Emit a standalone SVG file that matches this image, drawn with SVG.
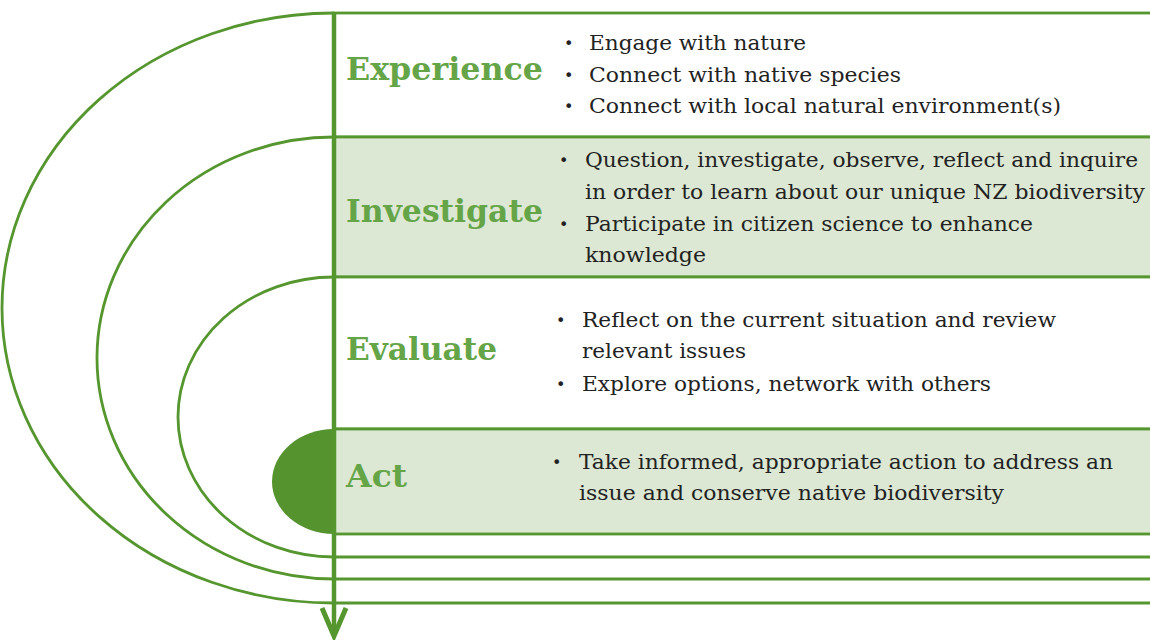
<svg xmlns="http://www.w3.org/2000/svg" width="1150" height="640" viewBox="0 0 1150 640">
<style>
.row{stroke:#55962f;stroke-width:2.8}
.w{fill:#ffffff}
.g{fill:#dce8d4}
.arc{fill:none;stroke:#55962f;stroke-width:2.8}
.h{font-family:"DejaVu Serif",serif;font-weight:bold;font-size:32px;fill:#65a548}
.t{font-family:"DejaVu Serif",serif;font-size:20px;fill:#222222}
.b{font-family:"DejaVu Sans",sans-serif;font-size:16px;fill:#222222}
</style>
<rect width="1150" height="640" fill="#ffffff"/>
<g id="experience">
<rect class="row w" x="334" y="13" width="830" height="124"/>
<text class="h" x="346" y="80" textLength="197" lengthAdjust="spacingAndGlyphs">Experience</text>
<text class="b" x="564" y="49">•</text><text class="t" x="589" y="50" textLength="217" lengthAdjust="spacingAndGlyphs">Engage with nature</text>
<text class="b" x="564" y="81">•</text><text class="t" x="589" y="82" textLength="312" lengthAdjust="spacingAndGlyphs">Connect with native species</text>
<text class="b" x="564" y="112">•</text><text class="t" x="589" y="113" textLength="472" lengthAdjust="spacingAndGlyphs">Connect with local natural environment(s)</text>
</g>
<g id="investigate">
<rect class="row g" x="334" y="137" width="830" height="140"/>
<text class="h" x="346" y="222" textLength="197" lengthAdjust="spacingAndGlyphs">Investigate</text>
<text class="b" x="559" y="166">•</text><text class="t" x="585" y="167" textLength="553" lengthAdjust="spacingAndGlyphs">Question, investigate, observe, reflect and inquire</text>
<text class="t" x="585" y="199" textLength="560" lengthAdjust="spacingAndGlyphs">in order to learn about our unique NZ biodiversity</text>
<text class="b" x="559" y="230">•</text><text class="t" x="585" y="231" textLength="448" lengthAdjust="spacingAndGlyphs">Participate in citizen science to enhance</text>
<text class="t" x="585" y="262" textLength="121" lengthAdjust="spacingAndGlyphs">knowledge</text>
</g>
<g id="evaluate">
<rect class="row w" x="334" y="277" width="830" height="152"/>
<text class="h" x="346" y="360" textLength="151" lengthAdjust="spacingAndGlyphs">Evaluate</text>
<text class="b" x="556" y="326">•</text><text class="t" x="582" y="327" textLength="474" lengthAdjust="spacingAndGlyphs">Reflect on the current situation and review</text>
<text class="t" x="582" y="358" textLength="164" lengthAdjust="spacingAndGlyphs">relevant issues</text>
<text class="b" x="556" y="390">•</text><text class="t" x="582" y="391" textLength="409" lengthAdjust="spacingAndGlyphs">Explore options, network with others</text>
</g>
<g id="act">
<rect class="row g" x="334" y="429" width="830" height="105"/>
<path d="M334,429 A62,52.5 0 0 0 334,534 Z" fill="#55932f"/>
<text class="h" x="346" y="487" textLength="61" lengthAdjust="spacingAndGlyphs">Act</text>
<text class="b" x="552" y="468">•</text><text class="t" x="579" y="469" textLength="534" lengthAdjust="spacingAndGlyphs">Take informed, appropriate action to address an</text>
<text class="t" x="579" y="500" textLength="425" lengthAdjust="spacingAndGlyphs">issue and conserve native biodiversity</text>
</g>
<g id="connectors">
<path class="arc" d="M334,13 A332,295 0 0 0 334,603 H1150"/>
<path class="arc" d="M334,137 A237,221 0 0 0 334,579 H1150"/>
<path class="arc" d="M334,277 A156,140 0 0 0 334,557 H1150"/>
<line x1="334" y1="13" x2="334" y2="634" stroke="#55962f" stroke-width="4.5"/>
<polyline points="322,608 334,636 346,608" fill="none" stroke="#55962f" stroke-width="5" stroke-linejoin="miter"/>
</g>
</svg>
